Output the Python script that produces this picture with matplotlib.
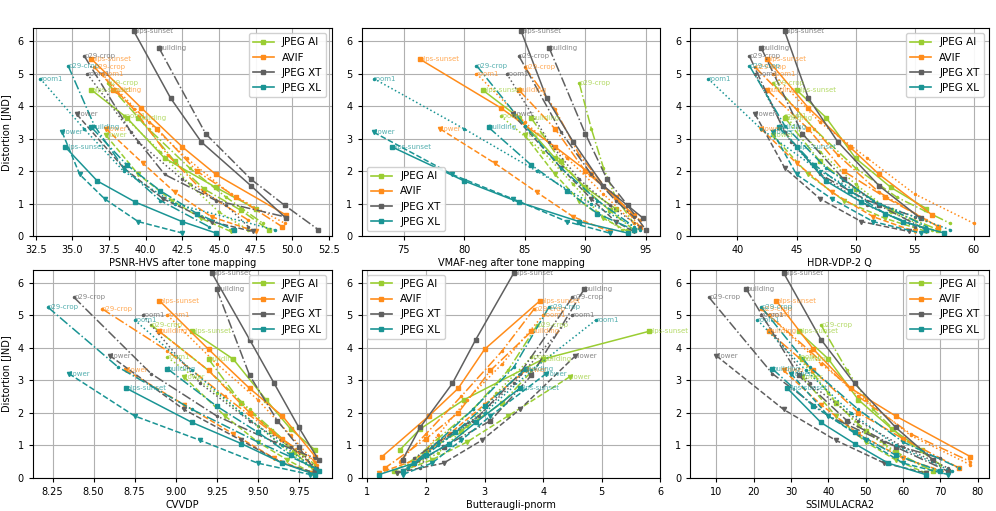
import matplotlib
matplotlib.use("Agg")
import matplotlib.pyplot as plt
from matplotlib.lines import Line2D

codecs = ["JPEG AI", "AVIF", "JPEG XT", "JPEG XL"]
colors = {"JPEG AI": "#9acd32", "AVIF": "#ff8c1a", "JPEG XT": "#5f5f5f", "JPEG XL": "#1a9494"}
images = ["alps-sunset", "building", "flower", "p29-crop", "room1"]
styles = {"alps-sunset": ("-", "s"), "building": ("-.", "s"), "flower": ("--", "v"),
          "p29-crop": ("-.", "."), "room1": (":", ".")}

# Distortion [JND] per codec / image
dist = {
    "JPEG XT": {"alps-sunset": [6.3, 4.25, 2.9, 1.55, 0.55], "building": [5.8, 3.15, 1.75, 0.95, 0.2],
                "flower": [3.75, 2.1, 1.15, 0.45, 0.15], "p29-crop": [5.55, 3.2, 1.9, 1.1, 0.6],
                "room1": [5.0, 2.9, 1.75, 0.95, 0.3]},
    "AVIF": {"alps-sunset": [5.45, 3.95, 2.75, 1.9, 0.65], "building": [4.5, 3.3, 2.0, 1.2, 0.3],
             "flower": [3.3, 2.25, 1.35, 0.6, 0.15], "p29-crop": [5.2, 3.9, 2.5, 1.35, 0.5],
             "room1": [5.0, 3.5, 2.4, 1.3, 0.4]},
    "JPEG AI": {"alps-sunset": [4.5, 3.65, 2.4, 1.5, 0.85], "building": [3.65, 2.3, 1.45, 0.8, 0.2],
                "flower": [3.1, 1.9, 1.1, 0.55, 0.15], "p29-crop": [4.7, 3.3, 2.1, 1.2, 0.4],
                "room1": [3.7, 2.6, 1.6, 0.75, 0.2]},
    "JPEG XL": {"alps-sunset": [2.75, 1.7, 1.05, 0.45, 0.1], "building": [3.35, 2.2, 1.4, 0.7, 0.2],
                "flower": [3.2, 1.9, 1.15, 0.45, 0.1], "p29-crop": [5.25, 3.4, 2.1, 1.1, 0.3],
                "room1": [4.85, 3.3, 2.0, 1.0, 0.2]},
}

psnr_hvs = {
    "JPEG XT": {"alps-sunset": [39.2, 41.7, 43.8, 47.2, 49.6], "building": [40.9, 44.1, 47.2, 49.5, 51.8],
                "flower": [35.3, 38.5, 41.2, 44.5, 47.3], "p29-crop": [35.8, 39.0, 41.3, 44.8, 49.5],
                "room1": [36.0, 39.5, 42.5, 45.5, 47.0]},
    "AVIF": {"alps-sunset": [36.3, 39.7, 42.5, 44.8, 49.6], "building": [37.8, 40.8, 43.5, 46.2, 49.3],
             "flower": [37.3, 39.8, 42.0, 44.5, 47.5], "p29-crop": [36.5, 39.2, 41.5, 44.0, 47.0],
             "room1": [37.0, 40.2, 42.8, 45.8, 49.5]},
    "JPEG AI": {"alps-sunset": [36.3, 38.7, 41.3, 44.8, 47.5], "building": [39.5, 42.0, 44.0, 46.5, 48.4],
                "flower": [37.3, 39.5, 41.8, 43.8, 45.8], "p29-crop": [37.4, 40.2, 43.0, 45.5, 48.0],
                "room1": [38.5, 41.0, 43.0, 45.0, 47.0]},
    "JPEG XL": {"alps-sunset": [34.5, 36.7, 39.3, 42.5, 44.8], "building": [36.3, 38.7, 41.0, 43.5, 46.0],
                "flower": [34.3, 35.5, 37.2, 39.5, 42.5], "p29-crop": [34.7, 36.5, 38.5, 41.0, 44.3],
                "room1": [32.8, 35.8, 38.5, 42.0, 48.8]},
}

vmaf_neg = {
    "JPEG XT": {"alps-sunset": [84.7, 86.8, 89.0, 91.5, 94.8], "building": [87.0, 90.0, 91.8, 93.5, 95.0],
                "flower": [84.0, 88.0, 90.5, 92.5, 94.0], "p29-crop": [84.5, 88.0, 90.5, 92.5, 94.0],
                "room1": [83.5, 87.0, 89.5, 92.0, 94.5]},
    "AVIF": {"alps-sunset": [76.3, 83.0, 87.5, 90.5, 94.0], "building": [84.5, 87.5, 90.0, 92.5, 94.5],
             "flower": [78.0, 82.5, 86.0, 89.0, 92.0], "p29-crop": [85.0, 87.5, 89.5, 92.0, 94.5],
             "room1": [81.0, 85.0, 88.5, 91.5, 94.0]},
    "JPEG AI": {"alps-sunset": [81.5, 84.5, 87.5, 90.0, 92.5], "building": [85.5, 88.0, 90.0, 92.0, 94.0],
                "flower": [85.0, 87.5, 89.5, 91.5, 93.5], "p29-crop": [89.5, 90.5, 91.5, 92.5, 94.0],
                "room1": [83.0, 86.5, 89.0, 91.0, 93.0]},
    "JPEG XL": {"alps-sunset": [74.0, 80.0, 84.5, 89.5, 93.5], "building": [82.0, 85.5, 88.5, 91.0, 94.0],
                "flower": [72.5, 79.0, 84.0, 88.5, 92.0], "p29-crop": [81.0, 85.0, 88.0, 91.0, 94.0],
                "room1": [72.5, 80.0, 86.0, 90.5, 94.5]},
}

hdr_vdp = {
    "JPEG XT": {"alps-sunset": [44.0, 46.0, 48.5, 52.0, 55.5], "building": [42.0, 45.5, 49.0, 52.0, 56.0],
                "flower": [41.5, 44.0, 47.0, 50.5, 54.5], "p29-crop": [41.0, 44.0, 47.0, 51.0, 55.0],
                "room1": [41.5, 44.5, 47.5, 51.0, 55.0]},
    "AVIF": {"alps-sunset": [42.5, 46.0, 49.5, 52.0, 56.5], "building": [42.5, 46.0, 49.0, 52.5, 57.0],
             "flower": [42.0, 45.0, 48.0, 51.5, 55.0], "p29-crop": [41.5, 45.0, 48.5, 52.0, 56.0],
             "room1": [43.0, 47.0, 51.0, 55.0, 60.0]},
    "JPEG AI": {"alps-sunset": [45.0, 47.5, 50.0, 53.0, 56.0], "building": [44.0, 47.0, 50.0, 53.0, 57.0],
                "flower": [43.0, 46.0, 49.0, 52.5, 56.0], "p29-crop": [43.0, 46.5, 50.0, 53.5, 58.0],
                "room1": [44.0, 47.0, 50.0, 53.0, 56.5]},
    "JPEG XL": {"alps-sunset": [45.0, 47.5, 50.5, 54.0, 57.5], "building": [43.5, 46.5, 49.5, 52.5, 56.0],
                "flower": [43.0, 45.0, 48.0, 51.5, 55.5], "p29-crop": [41.0, 44.0, 47.5, 51.5, 56.0],
                "room1": [37.5, 42.0, 47.0, 52.0, 58.0]},
}

cvvdp = {
    "JPEG XT": {"alps-sunset": [9.22, 9.45, 9.60, 9.75, 9.87], "building": [9.25, 9.45, 9.62, 9.75, 9.85],
                "flower": [8.60, 9.05, 9.40, 9.65, 9.85], "p29-crop": [8.38, 8.85, 9.25, 9.60, 9.85],
                "room1": [8.80, 9.15, 9.45, 9.70, 9.86]},
    "AVIF": {"alps-sunset": [8.90, 9.20, 9.45, 9.65, 9.85], "building": [8.90, 9.20, 9.45, 9.65, 9.85],
             "flower": [8.70, 9.05, 9.35, 9.60, 9.82], "p29-crop": [8.55, 8.95, 9.30, 9.60, 9.85],
             "room1": [8.95, 9.25, 9.50, 9.70, 9.86]},
    "JPEG AI": {"alps-sunset": [9.10, 9.35, 9.55, 9.70, 9.85], "building": [9.20, 9.40, 9.58, 9.72, 9.85],
                "flower": [9.05, 9.30, 9.50, 9.68, 9.83], "p29-crop": [8.85, 9.20, 9.45, 9.65, 9.85],
                "room1": [8.95, 9.25, 9.50, 9.70, 9.85]},
    "JPEG XL": {"alps-sunset": [8.70, 9.10, 9.40, 9.65, 9.85], "building": [8.95, 9.25, 9.50, 9.70, 9.87],
                "flower": [8.35, 8.75, 9.15, 9.50, 9.82], "p29-crop": [8.22, 8.65, 9.10, 9.50, 9.85],
                "room1": [8.75, 9.10, 9.40, 9.65, 9.87]},
}

butteraugli = {
    "JPEG XT": {"alps-sunset": [3.5, 2.85, 2.45, 1.9, 1.6], "building": [4.7, 3.8, 3.1, 2.3, 1.6],
                "flower": [4.55, 3.6, 2.95, 2.3, 1.5], "p29-crop": [4.5, 3.6, 2.9, 2.2, 1.8],
                "room1": [4.5, 3.5, 2.8, 2.1, 1.9]},
    "AVIF": {"alps-sunset": [3.95, 3.0, 2.55, 2.05, 1.25], "building": [3.8, 3.1, 2.55, 2.0, 1.3],
             "flower": [3.7, 3.0, 2.4, 1.9, 1.2], "p29-crop": [3.85, 3.3, 2.6, 2.0, 1.55],
             "room1": [4.0, 3.3, 2.7, 2.2, 1.8]},
    "JPEG AI": {"alps-sunset": [5.8, 4.0, 2.65, 1.9, 1.55], "building": [4.0, 3.3, 2.6, 2.0, 1.45],
                "flower": [4.45, 3.4, 2.7, 2.1, 1.5], "p29-crop": [3.9, 3.4, 2.8, 2.2, 1.7],
                "room1": [3.8, 3.2, 2.7, 2.2, 1.6]},
    "JPEG XL": {"alps-sunset": [3.6, 2.85, 2.4, 1.8, 1.2], "building": [3.7, 3.0, 2.5, 2.0, 1.6],
                "flower": [4.05, 3.1, 2.6, 2.1, 1.6], "p29-crop": [4.1, 3.5, 2.8, 2.2, 1.7],
                "room1": [4.9, 3.8, 3.0, 2.2, 1.6]},
}

ssimulacra2 = {
    "JPEG XT": {"alps-sunset": [28, 38, 47, 58, 68], "building": [18, 32, 45, 58, 72],
                "flower": [10, 28, 42, 55, 66], "p29-crop": [8, 25, 40, 55, 70],
                "room1": [22, 35, 48, 60, 72]},
    "AVIF": {"alps-sunset": [26, 36, 46, 58, 78], "building": [24, 36, 48, 60, 75],
             "flower": [28, 38, 48, 60, 72], "p29-crop": [22, 35, 48, 62, 78],
             "room1": [24, 38, 50, 62, 78]},
    "JPEG AI": {"alps-sunset": [32, 40, 48, 57, 65], "building": [33, 42, 50, 58, 68],
                "flower": [33, 42, 50, 58, 66], "p29-crop": [38, 45, 52, 60, 70],
                "room1": [32, 40, 48, 58, 68]},
    "JPEG XL": {"alps-sunset": [29, 38, 47, 56, 66], "building": [25, 36, 47, 58, 70],
                "flower": [30, 40, 50, 60, 72], "p29-crop": [22, 35, 48, 60, 75],
                "room1": [21, 34, 46, 58, 73]},
}

panels = [
    (psnr_hvs, "PSNR-HVS after tone mapping", (32.3, 52.7), "upper right"),
    (vmaf_neg, "VMAF-neg after tone mapping", (71.5, 96.2), "lower left"),
    (hdr_vdp, "HDR-VDP-2 Q", (36, 61.3), "upper right"),
    (cvvdp, "CVVDP", (8.13, 9.95), "upper right"),
    (butteraugli, "Butteraugli-pnorm", (0.9, 6.0), "upper left"),
    (ssimulacra2, "SSIMULACRA2", (3, 83), "upper right"),
]

fig, axes = plt.subplots(2, 3, figsize=(9.96, 5.11), dpi=100)
fig.subplots_adjust(left=0.033, right=0.993, top=0.945, bottom=0.065, wspace=0.1, hspace=0.16)

for i, (ax, (data, xlabel, xlim, legloc)) in enumerate(zip(axes.flat, panels)):
    for c in codecs:
        for im in images:
            ls, mk = styles[im]
            xs = data[c][im]
            ys = dist[c][im]
            ax.plot(xs, ys, linestyle=ls, marker=mk, color=colors[c], lw=1.1, ms=3)
            ax.text(xs[0], ys[0], im, fontsize=5, color=colors[c], alpha=0.75,
                    va="center", ha="left")
    ax.set_xlim(*xlim)
    ax.set_ylim(0, 6.4)
    ax.grid(True, color="#b0b0b0", lw=0.8)
    ax.set_axisbelow(True)
    ax.tick_params(labelsize=7, length=3)
    ax.set_xlabel(xlabel, fontsize=7, labelpad=2)
    if i % 3 == 0:
        ax.set_ylabel("Distortion [JND]", fontsize=7)
    handles = [Line2D([], [], color=colors[c], marker="s", ms=3, lw=1.2) for c in codecs]
    ax.legend(handles, codecs, loc=legloc, fontsize=7.5, framealpha=0.9)

fig.savefig("out.png", dpi=100)
